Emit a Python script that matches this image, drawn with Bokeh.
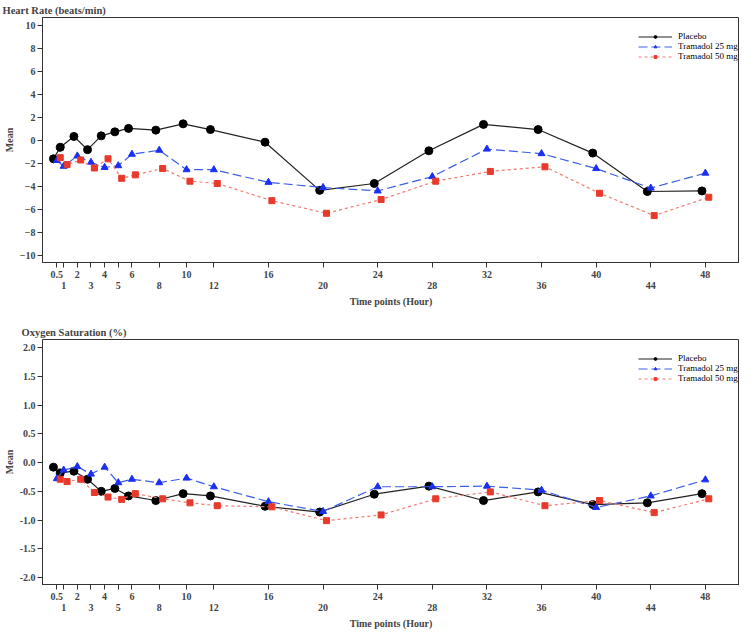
from bokeh.plotting import figure
from bokeh.models import (FixedTicker, LinearAxis, Range1d, Legend, LegendItem,
                          NumeralTickFormatter, ColumnDataSource)
from bokeh.transform import dodge
from bokeh.layouts import column
from bokeh.embed import file_html
from bokeh.resources import INLINE

# time points (hours)
hours = [0.5, 1, 2, 3, 4, 5, 6, 8, 10, 12, 16, 20, 24, 28, 32, 36, 40, 44, 48]
x_tick_labels = ["0.5", "1", "2", "3", "4", "5", "6", "8", "10", "12",
                 "16", "20", "24", "28", "32", "36", "40", "44", "48"]
top_row_ticks = [0.5, 2, 4, 6, 10, 16, 24, 32, 40, 48]
low_row_ticks = [1, 3, 5, 8, 12, 20, 28, 36, 44]

series_names = ["Placebo", "Tramadol 25 mg", "Tramadol 50 mg"]

# heart rate, mean change
hr_placebo = [-1.6, -0.6, 0.35, -0.8, 0.4, 0.75, 1.05, 0.9, 1.45, 0.95,
              -0.15, -4.35, -3.75, -0.9, 1.4, 0.95, -1.1, -4.45, -4.4]
hr_t25 = [-1.75, -2.25, -1.35, -1.9, -2.35, -2.2, -1.2, -0.85, -2.55, -2.55,
          -3.65, -4.1, -4.4, -3.15, -0.75, -1.15, -2.45, -4.15, -2.85]
hr_t50 = [-1.5, -2.1, -1.7, -2.4, -1.6, -3.3, -3.0, -2.45, -3.55, -3.75,
          -5.25, -6.35, -5.15, -3.55, -2.7, -2.3, -4.6, -6.55, -4.95]

# oxygen saturation, mean change
sp_placebo = [-0.08, -0.18, -0.15, -0.29, -0.5, -0.45, -0.58, -0.66, -0.54, -0.58,
              -0.76, -0.86, -0.55, -0.41, -0.66, -0.51, -0.73, -0.7, -0.54]
sp_t25 = [-0.28, -0.13, -0.07, -0.2, -0.08, -0.35, -0.29, -0.35, -0.27, -0.42,
          -0.68, -0.85, -0.42, -0.42, -0.41, -0.48, -0.78, -0.58, -0.3]
sp_t50 = [-0.29, -0.33, -0.29, -0.52, -0.6, -0.64, -0.54, -0.63, -0.7, -0.75,
          -0.77, -1.01, -0.91, -0.63, -0.51, -0.75, -0.66, -0.87, -0.63]

hr_yticks = [-10, -8, -6, -4, -2, 0, 2, 4, 6, 8, 10]
sp_yticks = [-2.0, -1.5, -1.0, -0.5, 0.0, 0.5, 1.0, 1.5, 2.0]

FONT = "Liberation Serif"
FRAME_W = 697

styles = [
    dict(shift=-0.25, line_color="#222222", dash="solid", marker="circle",
         mcolor="black", size=8),
    dict(shift=0.0, line_color="#3d5ee8", dash="9 4", marker="triangle",
         mcolor="#1a2ff0", size=7),
    dict(shift=0.25, line_color="#f07a70", dash="3 3", marker="square",
         mcolor="#e8392b", size=6),
]


def make_panel(title, title_offset, vals, y_lo, y_hi, y_ticks, frame_h, bottom_pad,
               fmt=None):
    p = figure(frame_width=FRAME_W, frame_height=frame_h, output_backend="svg",
               toolbar_location=None,
               x_range=Range1d(-0.55, 50.5), y_range=Range1d(y_lo, y_hi),
               min_border_left=0, min_border_right=0, min_border_top=0,
               min_border_bottom=bottom_pad)
    p.title.text = title
    p.title.align = "left"
    p.title.offset = title_offset
    p.title.standoff = 4
    p.title.text_font = FONT
    p.title.text_font_size = "10.5px"
    p.title.text_font_style = "bold"
    p.grid.visible = False
    p.outline_line_color = "#333333"

    items = []
    for name, v, st in zip(series_names, vals, styles):
        src = ColumnDataSource(dict(x=hours, y=v))
        xs = dodge("x", st["shift"], range=p.x_range)
        ln = p.line(x=xs, y="y", source=src, line_color=st["line_color"],
                    line_dash=st["dash"], line_width=1.2)
        sc = p.scatter(x=xs, y="y", source=src, marker=st["marker"], size=st["size"],
                       fill_color=st["mcolor"], line_color=st["mcolor"])
        items.append(LegendItem(label=name, renderers=[ln, sc]))

    # legend anchored by its bottom-left corner, in px from the frame's bottom-left
    legend = Legend(items=items, location=(FRAME_W - 101, frame_h - 44),
                    border_line_color=None,
                    background_fill_alpha=0, label_text_font=FONT,
                    label_text_color="black",
                    label_text_font_size="9px", glyph_width=34, glyph_height=7,
                    label_height=7, spacing=0, padding=2, margin=0, label_standoff=6)
    p.add_layout(legend)

    # y axis
    ya = p.yaxis[0]
    ya.ticker = FixedTicker(ticks=y_ticks)
    if fmt:
        ya.formatter = NumeralTickFormatter(format=fmt)
    ya.axis_label = "Mean"
    ya.axis_label_standoff = 2
    ya.major_label_standoff = 2

    # x axis, labels on two staggered rows
    xa = p.xaxis[0]
    xa.ticker = FixedTicker(ticks=hours)
    xa.major_label_overrides = {h: (lab if h in top_row_ticks else "")
                                for h, lab in zip(hours, x_tick_labels)}
    xa.major_label_standoff = 3
    x2 = LinearAxis(ticker=FixedTicker(ticks=low_row_ticks),
                    major_label_overrides={h: lab for h, lab in zip(hours, x_tick_labels)
                                           if h in low_row_ticks},
                    axis_label="Time points (Hour)",
                    axis_line_color=None, major_tick_line_color=None,
                    minor_tick_line_color=None, major_tick_in=0, major_tick_out=0,
                    major_label_standoff=1, axis_label_standoff=4)
    p.add_layout(x2, "below")

    for ax in [ya, xa, x2]:
        ax.major_label_text_font = FONT
        ax.major_label_text_font_size = "10px"
        ax.major_label_text_font_style = "bold"
        ax.axis_label_text_font = FONT
        ax.axis_label_text_font_size = "10px"
        ax.axis_label_text_font_style = "bold"
        ax.minor_tick_line_color = None
    for ax in [ya, xa]:
        ax.major_tick_in = 0
        ax.major_tick_out = 5
        ax.axis_line_color = "#333333"
        ax.major_tick_line_color = "#333333"
    return p


p1 = make_panel("Heart Rate (beats/min)", -40, [hr_placebo, hr_t25, hr_t50],
                -10.64, 10.72, hr_yticks, 245, 60)
p2 = make_panel("Oxygen Saturation (%)", -21, [sp_placebo, sp_t25, sp_t50],
                -2.12, 2.14, sp_yticks, 245, 0, fmt="0.0")

p = column(p1, p2)
open("out.html", "w").write(file_html(p, INLINE))
